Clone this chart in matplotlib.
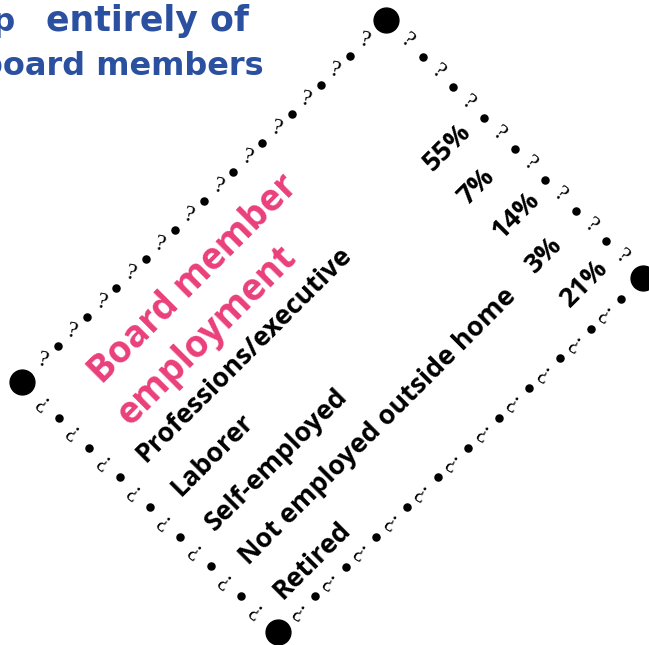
import numpy as np
import matplotlib
matplotlib.use("Agg")
import matplotlib.pyplot as plt

# ---- data ----
headline_1a = "A group"
headline_1b = "entirely of"
headline_2 = "board members"
table_title = ["Board member", "employment"]
categories = ["Professions/executive", "Laborer", "Self-employed",
              "Not employed outside home", "Retired"]
values = [55, 7, 14, 3, 21]

# ---- style ----
BLUE = "#2B50A0"
PINK = "#EA3F7A"
W, H = 649, 645

fig = plt.figure(figsize=(W / 100, H / 100), dpi=100)
ax = fig.add_axes([0, 0, 1, 1])
ax.set_xlim(0, W)
ax.set_ylim(H, 0)
ax.axis("off")

def pt(s, c):
    # s = x - y, c = x + y  (frame rotated by 45 degrees)
    return (c + s) / 2.0, (c - s) / 2.0

# headline (partly outside the canvas on the left, as in the reference)
hkw = dict(va="baseline", fontweight="bold", color=BLUE, family="DejaVu Sans")
ax.text(15, 31, headline_1a, ha="right", fontsize=23, **hkw)
ax.text(249, 31, headline_1b, ha="right", fontsize=25, **hkw)
ax.text(264, 75, headline_2, ha="right", fontsize=23, **hkw)

# pink table title
for (s, c), line in zip([(-283, 487), (-297, 557)], table_title):
    x, y = pt(s, c)
    ax.text(x, y, line, rotation=45, rotation_mode="anchor", ha="left",
            va="baseline", fontsize=27, fontweight="bold", color=PINK,
            family="Open Sans")

# rows
row_step = 68.5
for i, (cat, val) in enumerate(zip(categories, values)):
    x, y = pt(-317, 609 + row_step * i)
    ax.text(x, y, cat, rotation=45, rotation_mode="anchor", ha="left",
            va="baseline", fontsize=19.3, fontweight="bold", color="black",
            family="Open Sans")
    x, y = pt(261, 604 + row_step * i)
    ax.text(x, y, f"{val}%", rotation=45, rotation_mode="anchor", ha="left",
            va="baseline", fontsize=19.5, fontweight="bold", color="black",
            family="Open Sans")

# dotted border with question marks
corners = {"L": (22, 382), "T": (386, 20), "R": (643, 278), "B": (278, 632)}
edges = [("L", "T", "?", -12), ("T", "R", "?", -38),
         ("L", "B", "\u00bf", -40), ("B", "R", "\u00bf", -30)]
for a, b, glyph, rot in edges:
    p0 = np.array(corners[a], float)
    p1 = np.array(corners[b], float)
    length = np.hypot(*(p1 - p0))
    n = int(round((length - 60) / 21.0)) + 1
    ts = np.linspace(30, length - 30, n) / length
    for k, t in enumerate(ts):
        p = p0 + t * (p1 - p0)
        if k % 2 == 0:
            ax.text(p[0], p[1], glyph, ha="center", va="center", fontsize=17,
                    rotation=rot, family="Liberation Serif", color="black")
        else:
            ax.scatter([p[0]], [p[1]], s=26, color="black", zorder=3)

cx = [v[0] for v in corners.values()]
cy = [v[1] for v in corners.values()]
ax.scatter(cx, cy, s=320, color="black", zorder=4)

fig.savefig("out.png", dpi=100)
